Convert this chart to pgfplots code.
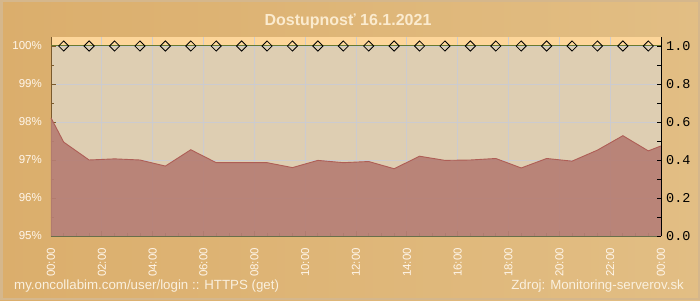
\documentclass[border=0pt]{standalone}
\usepackage{fontspec}
\setmainfont{Liberation Sans}
\newfontfamily\monofont{Liberation Mono}
\usepackage{pgfplots}
\pgfplotsset{compat=1.18}
\definecolor{outerbg}{HTML}{DBAE6C}
\definecolor{outerbg2}{HTML}{E2BE84}
\definecolor{framecol}{HTML}{D5B78C}
\definecolor{plotbg}{HTML}{DECEB2}
\definecolor{bandcol}{HTML}{FDD69A}
\definecolor{areacol}{HTML}{B67E74}
\definecolor{arealine}{HTML}{AE5E56}
\definecolor{gridcol}{HTML}{CCCBCF}
\definecolor{leftaxis}{HTML}{7A5A2C}
\definecolor{bottomaxis}{HTML}{5E6E46}
\definecolor{linecol}{HTML}{6A7A2E}
\definecolor{titlecol}{HTML}{FBEBCF}
\definecolor{labelcol}{HTML}{FFF6EA}
\definecolor{footcol}{HTML}{FAF0DE}
\begin{document}
\begin{tikzpicture}[x=1pt,y=1pt]
\shade[left color=outerbg, right color=outerbg2] (0,0) rectangle (700,300);
\draw[framecol, line width=2.5pt] (1.25,1.25) rectangle (698.75,298.75);
\fill[plotbg] (51,64) rectangle (661,254);
\fill[bandcol] (51,254) rectangle (661,263);
\node[font=\bfseries\fontsize{16}{18}\selectfont, text=titlecol, inner sep=0pt] at (348,279) {Dostupnosť 16.1.2021};
\node[anchor=base west, font=\fontsize{13.3}{15}\selectfont, text=footcol, inner sep=0pt] at (14,11) {my.oncollabim.com/user/login :: HTTPS (get)};
\node[anchor=base east, font=\fontsize{13.3}{15}\selectfont, text=footcol, inner sep=0pt] at (684,11) {Zdroj: Monitoring-serverov.sk};
\begin{axis}[
  at={(51pt,64pt)}, anchor=south west, scale only axis,
  width=610pt, height=199pt,
  xmin=0, xmax=24, ymin=95, ymax=100.2368,
  axis x line*=bottom, axis y line*=left,
  x axis line style={draw=bottomaxis, line width=0.8pt},
  y axis line style={draw=leftaxis, line width=0.8pt},
  xtick={0,2,4,6,8,10,12,14,16,18,20,22,24},
  xticklabels={00:00,02:00,04:00,06:00,08:00,10:00,12:00,14:00,16:00,18:00,20:00,22:00,00:00},
  minor x tick num=3,
  ytick={95,96,97,98,99,100},
  yticklabels={95\%,96\%,97\%,98\%,99\%,100\%},
  minor ytick={95.5,96.5,97.5,98.5,99.5},
  tick align=inside,
  major tick length=5pt, minor tick length=3pt,
  xtick style={draw=bottomaxis, line width=0.8pt},
  minor x tick style={draw=bottomaxis, line width=0.8pt},
  ytick style={draw=leftaxis, line width=0.8pt},
  minor y tick style={draw=leftaxis, line width=0.8pt},
  grid=major, major grid style={draw=gridcol, line width=0.9pt},
  xticklabel style={rotate=90, anchor=east, font=\fontsize{11.5}{13}\selectfont, text=labelcol, inner sep=0pt, xshift=-12pt},
  yticklabel style={font=\fontsize{11.5}{13}\selectfont, text=labelcol, inner sep=0pt, xshift=-9pt},
]
\addplot[fill=areacol, fill opacity=0.92, draw=none] coordinates {
(0,98.11) (0.5,97.47) (1.5,97.00) (2.5,97.03) (3.5,97.00) (4.5,96.84)
(5.5,97.27) (6.5,96.93) (7.5,96.93) (8.5,96.93) (9.5,96.80) (10.5,96.99)
(11.5,96.93) (12.5,96.96) (13.5,96.77) (14.5,97.10) (15.5,96.99) (16.5,97.00)
(17.5,97.04) (18.5,96.79) (19.5,97.04) (20.5,96.97) (21.5,97.26) (22.5,97.64)
(23.5,97.24) (24,97.37)} \closedcycle;
\addplot[arealine, line width=0.9pt] coordinates {
(0,98.11) (0.5,97.47) (1.5,97.00) (2.5,97.03) (3.5,97.00) (4.5,96.84)
(5.5,97.27) (6.5,96.93) (7.5,96.93) (8.5,96.93) (9.5,96.80) (10.5,96.99)
(11.5,96.93) (12.5,96.96) (13.5,96.77) (14.5,97.10) (15.5,96.99) (16.5,97.00)
(17.5,97.04) (18.5,96.79) (19.5,97.04) (20.5,96.97) (21.5,97.26) (22.5,97.64)
(23.5,97.24) (24,97.37)};
\end{axis}
\begin{axis}[
  at={(51pt,64pt)}, anchor=south west, scale only axis,
  width=610pt, height=199pt,
  xmin=0, xmax=24, ymin=0, ymax=1.04737,
  axis x line=none, axis y line*=right,
  y axis line style={draw=black, line width=0.8pt},
  ytick={0,0.2,0.4,0.6,0.8,1.0},
  yticklabels={0.0,0.2,0.4,0.6,0.8,1.0},
  minor ytick={0.1,0.3,0.5,0.7,0.9},
  tick align=inside,
  major tick length=4pt, minor tick length=4pt,
  ytick style={draw=black, line width=0.8pt},
  minor y tick style={draw=black, line width=0.8pt},
  yticklabel style={font=\monofont\fontsize{13.5}{14}\selectfont, text=black, inner sep=0pt, xshift=5pt},
]
\addplot[linecol, line width=1pt] coordinates {(0,1) (24,1)};
\addplot[only marks, mark=square, mark size=3.6pt, mark options={rotate=45, draw=black, fill=none, line width=0.8pt}] coordinates {
(0.5,1) (1.5,1) (2.5,1) (3.5,1) (4.5,1) (5.5,1) (6.5,1) (7.5,1)
(8.5,1) (9.5,1) (10.5,1) (11.5,1) (12.5,1) (13.5,1) (14.5,1) (15.5,1)
(16.5,1) (17.5,1) (18.5,1) (19.5,1) (20.5,1) (21.5,1) (22.5,1) (23.5,1)};
\end{axis}
\end{tikzpicture}
\end{document}
